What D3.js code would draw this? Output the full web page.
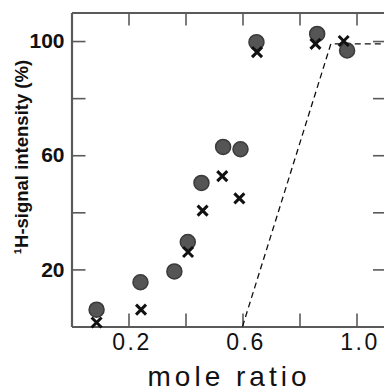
<!DOCTYPE html>
<html><head><meta charset="utf-8">
<script src="https://cdn.jsdelivr.net/npm/d3@7"></script>
<style>
body{margin:0;background:#fff;}
svg{display:block;}
</style></head>
<body>
<svg id="chart" width="384" height="392"></svg>
<script>
// Data
const circleX = [0.088, 0.242, 0.361, 0.408, 0.456, 0.532, 0.593, 0.649, 0.862, 0.967];
const circleY = [5.9, 15.5, 19.3, 29.6, 50.3, 62.9, 62.1, 99.6, 102.5, 96.7];
const crossX = [0.088, 0.244, 0.409, 0.460, 0.529, 0.589, 0.651, 0.856, 0.955];
const crossY = [1.4, 5.9, 26.1, 40.6, 52.7, 44.9, 96.1, 99.0, 100.0];
const lineX = [0.6, 0.91, 1.1];
const lineY = [0, 99, 99];
const xTicks = [0.2, 0.4, 0.6, 0.8, 1.0];
const xTickLabels = ["0.2", "", "0.6", "", "1.0"];
const yTicks = [20, 40, 60, 80, 100];
const yTickLabels = ["20", "", "60", "", "100"];
const xTitle = "mole ratio";
const yTitle = "¹H-signal intensity (%)";

(function () {
const svg = d3.select("#chart");
const mLeft = 71.5, mRight = 385, mTop = 12.5, mBottom = 326.5;
const x = d3.scaleLinear().domain([0, 1.1]).range([mLeft, mRight]);
const y = d3.scaleLinear().domain([0, 110]).range([mBottom, mTop]);
const font = "'Liberation Sans', Arial, Helvetica, sans-serif";
const axisColor = "#5a5a5a";

function styleAxis(g) {
  g.select(".domain").attr("stroke", axisColor).attr("stroke-width", 2.2);
  g.selectAll(".tick line").attr("stroke", axisColor).attr("stroke-width", 1.6);
}

const xLab = (d) => xTickLabels[xTicks.indexOf(d)];
const yLab = (d) => yTickLabels[yTicks.indexOf(d)];

// bottom
svg.append("g").attr("transform", `translate(0,${mBottom})`)
  .call(d3.axisBottom(x).tickValues(xTicks).tickFormat(xLab).tickSize(-13).tickSizeOuter(0).tickPadding(7))
  .call(styleAxis)
  .call(g => g.selectAll("text").attr("font-family", font).attr("font-size", 23)
      .attr("letter-spacing", "2.5px").attr("fill", "#111").attr("dx", "3px"));
// top
svg.append("g").attr("transform", `translate(0,${mTop})`)
  .call(d3.axisTop(x).tickValues(xTicks).tickFormat("").tickSize(-13).tickSizeOuter(0))
  .call(styleAxis);
// left
svg.append("g").attr("transform", `translate(${mLeft},0)`)
  .call(d3.axisLeft(y).tickValues(yTicks).tickFormat(yLab).tickSize(-14).tickSizeOuter(0).tickPadding(7))
  .call(styleAxis)
  .call(g => g.selectAll("text").attr("font-family", font).attr("font-size", 21)
      .attr("font-weight", "bold").attr("fill", "#111"));
// right
svg.append("g").attr("transform", `translate(${mRight},0)`)
  .call(d3.axisRight(y).tickValues(yTicks).tickFormat("").tickSize(-12).tickSizeOuter(0))
  .call(styleAxis);

// dashed line
const line = d3.line().x(d => x(d[0])).y(d => y(d[1]));
svg.append("path")
  .datum(lineX.map((v, i) => [v, lineY[i]]))
  .attr("d", line)
  .attr("fill", "none").attr("stroke", "#111").attr("stroke-width", 1.3)
  .attr("stroke-dasharray", "6,4");

// circles
svg.append("g").selectAll("circle")
  .data(circleX.map((v, i) => [v, circleY[i]]))
  .join("circle")
  .attr("cx", d => x(d[0])).attr("cy", d => y(d[1])).attr("r", 7.5)
  .attr("fill", "#555").attr("stroke", "#3a3a3a").attr("stroke-width", 1.5);

// crosses
const cs = 5;
svg.append("g").selectAll("path")
  .data(crossX.map((v, i) => [v, crossY[i]]))
  .join("path")
  .attr("d", d => {
    const cx = x(d[0]), cy = y(d[1]);
    return `M${cx - cs},${cy - cs}L${cx + cs},${cy + cs}M${cx - cs},${cy + cs}L${cx + cs},${cy - cs}`;
  })
  .attr("stroke", "#111").attr("stroke-width", 3).attr("fill", "none");

// titles
svg.append("text")
  .attr("x", 229).attr("y", 386)
  .attr("text-anchor", "middle")
  .attr("font-family", font).attr("font-size", 28)
  .attr("letter-spacing", "4px")
  .attr("fill", "#111")
  .text(xTitle);

svg.append("text")
  .attr("transform", "translate(28,157) rotate(-90)")
  .attr("text-anchor", "middle")
  .attr("font-family", font).attr("font-size", 18.5)
  .attr("font-weight", "bold")
  .attr("fill", "#111")
  .text(yTitle);
})();
</script>
</body></html>
